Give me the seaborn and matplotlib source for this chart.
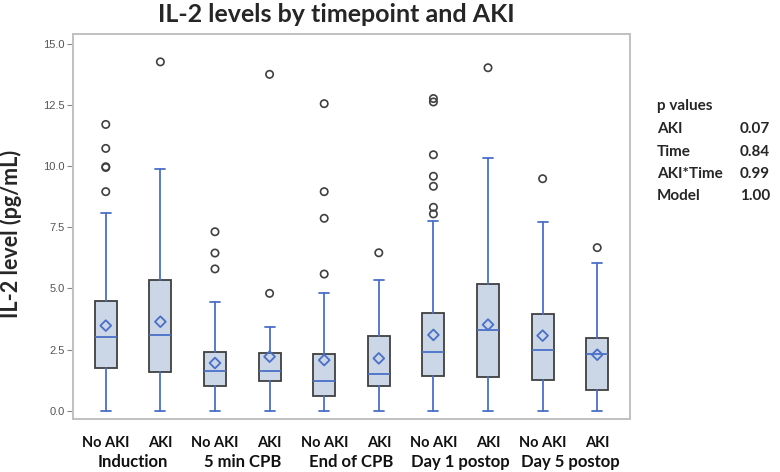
import numpy as np
import matplotlib.pyplot as plt
import matplotlib.transforms as mtransforms
import pandas as pd
import seaborn as sns

# summary stats, one entry per box
groups = ["No AKI", "AKI"] * 5
timepoints = ["Induction", "5 min CPB", "End of CPB", "Day 1 postop", "Day 5 postop"]
whis_lo = [0, 0, 0, 0, 0, 0, 0, 0, 0, 0]
q1 = [1.73, 1.60, 1.01, 1.23, 0.60, 1.01, 1.41, 1.39, 1.26, 0.86]
median = [3.00, 3.11, 1.64, 1.62, 1.23, 1.50, 2.39, 3.31, 2.47, 2.32]
q3 = [4.47, 5.33, 2.41, 2.35, 2.30, 3.04, 4.01, 5.17, 3.94, 2.99]
whis_hi = [8.10, 9.89, 4.46, 3.42, 4.80, 5.35, 7.76, 10.32, 7.72, 6.04]
means = [3.48, 3.64, 1.95, 2.21, 2.07, 2.14, 3.10, 3.52, 3.07, 2.29]
outliers = [
    [11.71, 10.73, 9.98, 9.95, 8.96],
    [14.27],
    [7.32, 6.45, 5.80],
    [13.76, 4.80],
    [12.56, 8.96, 7.87, 5.59],
    [6.46],
    [12.77, 12.63, 10.47, 9.59, 9.18, 8.32, 8.05],
    [14.03],
    [9.49],
    [6.67],
]
p_terms = ["AKI", "Time", "AKI*Time", "Model"]
p_vals = ["0.07", "0.84", "0.99", "1.00"]

sns.set_style("white")
plt.rcParams['font.family'] = ['Lato', 'DejaVu Sans']

box_fill = "#CBD7E6"
box_edge = "#404040"
blue = "#4A6FC8"

fig = plt.figure(figsize=(7.8, 4.72), dpi=100)
ax = fig.add_axes([73 / 780, 1 - 419 / 472, (630 - 73) / 780, (419 - 34) / 472])

pos = np.arange(len(groups))
stats = []
for i in range(len(groups)):
    stats.append(dict(med=median[i], q1=q1[i], q3=q3[i], whislo=whis_lo[i],
                      whishi=whis_hi[i], fliers=[]))

ax.bxp(stats, positions=pos, widths=0.40, patch_artist=True, showfliers=False,
       boxprops=dict(facecolor=box_fill, edgecolor=box_edge, linewidth=1.3),
       medianprops=dict(color=blue, linewidth=1.3),
       whiskerprops=dict(color=blue, linewidth=1.3),
       capprops=dict(color=blue, linewidth=1.3),
       capwidths=0.18, zorder=2)

# outlier circles
out_df = pd.DataFrame([(pos[i], v) for i in range(len(groups)) for v in outliers[i]],
                      columns=["pos", "value"])
sns.scatterplot(data=out_df, x="pos", y="value", ax=ax, marker="o", s=28,
                facecolors="none", edgecolor="#404040", linewidth=1.2, zorder=3)

# mean diamonds
mean_df = pd.DataFrame({"pos": pos, "value": means})
sns.scatterplot(data=mean_df, x="pos", y="value", ax=ax, marker="D", s=30,
                facecolors="none", edgecolor=blue, linewidth=1.3, zorder=4)

ax.set_xlim(-0.6, 9.6)
ax.set_ylim(-0.34, 15.41)
ax.set_yticks(np.arange(0, 15.1, 2.5))
ax.set_yticklabels([f"{v:.1f}" for v in np.arange(0, 15.1, 2.5)],
                   family="Liberation Sans", fontsize=8, color="#555555")
ax.tick_params(axis="y", length=4, color="#888888", width=0.8, left=True, pad=2)
ax.set_xticks(pos)
ax.set_xticklabels(groups, fontsize=10.5, fontweight="bold", color="#111111")
ax.tick_params(axis="x", length=0, pad=12)
ax.set_xlabel("")
ax.set_ylabel("")

for s in ax.spines.values():
    s.set_color("#C0C0C0")
    s.set_linewidth(1.4)

trans = mtransforms.blended_transform_factory(ax.transData, fig.transFigure)
for k, tp in enumerate(timepoints):
    ax.text(2 * k + 0.5, 1 - 462 / 472, tp, transform=trans, ha="center", va="center",
            fontsize=12, fontweight="bold", color="#111111")

fig.text(11 / 780, 1 - 234 / 472, "IL-2 level (pg/mL)", rotation=90, ha="center",
         va="center", fontsize=15.5, fontweight="bold")

fig.text(336 / 780, 1 - 15 / 472, "IL-2 levels by timepoint and AKI",
         ha="center", va="center", fontsize=18, fontweight="bold")

fig.text(657 / 780, 1 - 106 / 472, "p values", ha="left", va="center",
         fontsize=11, fontweight="bold")
for j in range(len(p_terms)):
    y = 1 - (129 + 22.5 * j) / 472
    fig.text(657 / 780, y, p_terms[j], ha="left", va="center", fontsize=11, fontweight="bold")
    fig.text(740 / 780, y, p_vals[j], ha="left", va="center", fontsize=11, fontweight="bold")

fig.savefig("out.png", dpi=100)
